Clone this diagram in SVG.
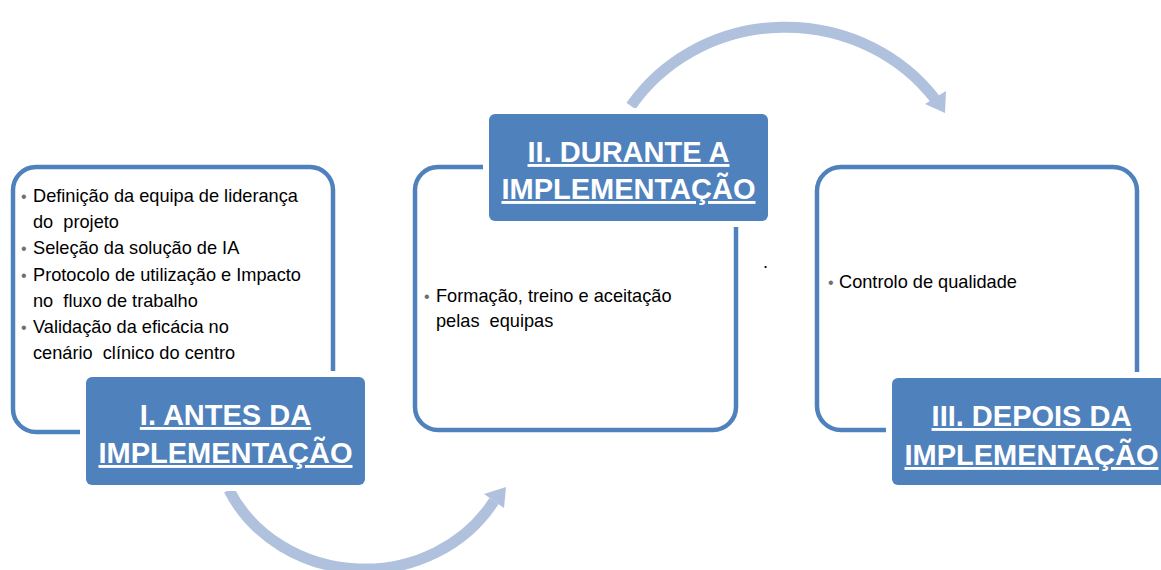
<svg xmlns="http://www.w3.org/2000/svg" width="1161" height="570" viewBox="0 0 1161 570">
  <style>
    .frame { fill: #FFFFFF; stroke: #4F81BD; stroke-width: 4.5; }
    .halo { fill: #FFFFFF; }
    .label { fill: #4F81BD; }
    .ltxt { font-family: "Liberation Sans", Arial, sans-serif; font-weight: bold; font-size: 29px; fill: #FFFFFF; text-anchor: middle; text-decoration: underline; }
    .btxt { font-family: "Liberation Sans", Arial, sans-serif; font-size: 18.2px; fill: #000000; }
    .bul { font-family: "Liberation Sans", Arial, sans-serif; font-size: 16px; fill: #6F6F6F; }
    .arc { fill: none; stroke: #AFC1DD; stroke-width: 11; }
    .head { fill: #AFC1DD; }
  </style>
  <rect width="1161" height="570" fill="#FFFFFF"/>

  <g id="connectors">
    <path class="arc" d="M631,106 A 185 175 0 0 1 935,99"/>
    <polygon class="head" points="925,104 946,91 945,113"/>
    <path class="arc" d="M229,490 A 150 138 0 0 0 494,501"/>
    <polygon class="head" points="484,494 506,487 504,508"/>
  </g>

  <g id="node1">
    <rect class="frame" x="13" y="167" width="320" height="265" rx="23" ry="23"/>
    <rect class="halo" x="80" y="371" width="291" height="120" rx="9"/>
    <rect class="label" x="86" y="377" width="279" height="108" rx="6"/>
    <text class="ltxt" x="225.5" y="425">I. ANTES DA</text>
    <text class="ltxt" x="225.5" y="463">IMPLEMENTAÇÃO</text>
    <g class="btxt">
      <text class="bul" x="21" y="202">•</text><text x="33" y="202">Definição da equipa de liderança</text>
      <text x="33" y="228">do&#160; projeto</text>
      <text class="bul" x="21" y="254">•</text><text x="33" y="254">Seleção da solução de IA</text>
      <text class="bul" x="21" y="281">•</text><text x="33" y="281">Protocolo de utilização e Impacto</text>
      <text x="33" y="307">no&#160; fluxo de trabalho</text>
      <text class="bul" x="21" y="333">•</text><text x="33" y="333">Validação da eficácia no</text>
      <text x="33" y="359">cenário&#160; clínico do centro</text>
    </g>
  </g>

  <g id="node2">
    <rect class="frame" x="415" y="167" width="321" height="263" rx="23" ry="23"/>
    <rect class="halo" x="483" y="108" width="291" height="119" rx="9"/>
    <rect class="label" x="489" y="114" width="279" height="107" rx="6"/>
    <text class="ltxt" x="628.5" y="162">II. DURANTE A</text>
    <text class="ltxt" x="628.5" y="199">IMPLEMENTAÇÃO</text>
    <g class="btxt">
      <text class="bul" x="424" y="302">•</text><text x="436" y="302">Formação, treino e aceitação</text>
      <text x="436" y="327">pelas&#160; equipas</text>
    </g>
    <text class="btxt" x="763" y="268">.</text>
  </g>

  <g id="node3">
    <rect class="frame" x="817" y="167" width="320" height="263" rx="24" ry="24"/>
    <rect class="halo" x="886" y="372" width="291" height="119" rx="9"/>
    <rect class="label" x="892" y="378" width="279" height="107" rx="6"/>
    <text class="ltxt" x="1031.5" y="426">III. DEPOIS DA</text>
    <text class="ltxt" x="1031.5" y="465">IMPLEMENTAÇÃO</text>
    <g class="btxt">
      <text class="bul" x="828" y="288">•</text><text x="839" y="288">Controlo de qualidade</text>
    </g>
  </g>
</svg>
